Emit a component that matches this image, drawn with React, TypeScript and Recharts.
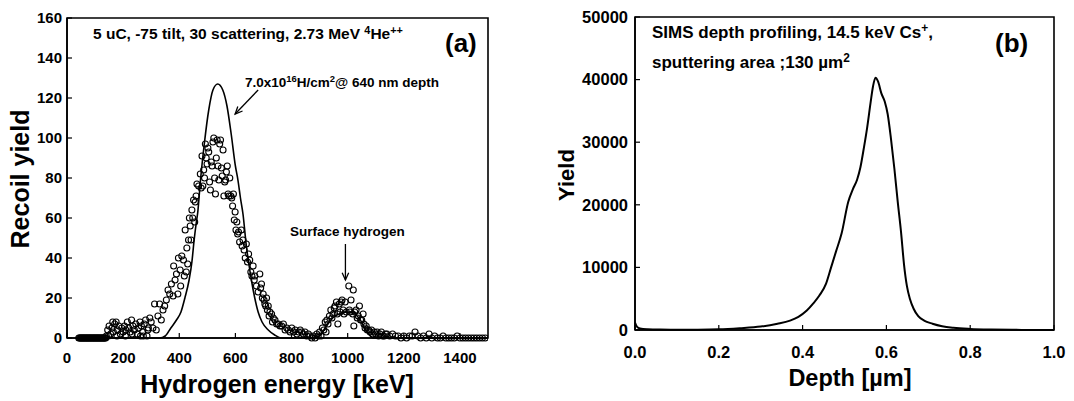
import React from 'react';
import {
  ComposedChart,
  LineChart,
  Line,
  Scatter,
  XAxis,
  YAxis,
  ReferenceArea,
  ReferenceLine
} from 'recharts';

// panel (a): ERD spectrum
const energyTicks = [0, 200, 400, 600, 800, 1000, 1200, 1400];
const recoilTicks = [0, 20, 40, 60, 80, 100, 120, 140, 160];

// measured recoil yield [keV, counts]
const measured: [number, number][] = [
  [42, 0], [45, 0], [48, 0], [50, 0], [53, 0], [55, 0], [58, 0], [60, 0], [63, 0], [65, 0],
  [68, 0], [70, 0], [73, 0], [75, 0], [78, 0], [80, 0], [83, 0], [85, 0], [88, 0], [90, 0],
  [93, 0], [95, 0], [98, 0], [100, 0], [103, 0], [105, 0], [108, 0], [110, 0], [113, 0], [115, 0],
  [118, 0], [120, 0], [123, 0], [125, 0], [128, 0], [130, 0], [133, 0], [135, 0], [138, 0], [140, 1],
  [145, 4], [148, 1], [150, 6], [155, 2], [160, 5], [163, 8], [165, 3], [170, 7], [175, 8], [178, 1],
  [180, 4], [185, 6], [190, 2], [195, 5], [200, 3], [205, 6], [208, 1], [210, 4], [215, 8], [220, 5],
  [225, 3], [230, 9], [232, 2], [235, 6], [240, 4], [245, 7], [250, 2], [255, 5], [260, 8], [262, 1],
  [265, 6], [270, 3], [272, 1], [275, 7], [280, 9], [285, 1], [288, 4], [290, 5], [295, 10], [300, 8],
  [306, 5], [312, 17], [318, 4], [324, 11], [330, 17], [336, 9], [342, 14], [348, 16], [354, 19], [360, 24],
  [366, 22], [372, 27], [378, 21], [380, 36], [385, 29], [390, 32], [395, 22], [397, 40], [403, 34], [405, 26],
  [409, 41], [415, 39], [418, 31], [421, 54], [425, 33], [427, 45], [430, 37], [433, 49], [436, 60], [439, 56],
  [442, 49], [445, 64], [448, 60], [451, 69], [455, 58], [457, 68], [460, 71], [463, 77], [469, 76],
  [475, 82], [478, 75], [481, 91], [484, 76], [487, 84], [490, 80], [493, 97], [496, 90], [499, 87], [502, 95],
  [505, 93], [508, 78], [511, 74], [514, 88], [517, 86], [520, 98], [523, 100], [526, 80], [529, 72], [532, 90],
  [535, 99], [538, 86], [541, 79], [544, 97], [547, 99], [550, 85], [553, 81], [556, 94], [559, 71], [562, 78],
  [565, 79], [568, 83], [571, 86], [574, 72], [577, 71], [580, 80], [584, 71], [587, 70], [590, 66], [593, 72],
  [596, 59], [599, 63], [602, 54], [605, 58], [608, 52], [611, 53], [615, 48], [621, 54], [624, 46], [627, 49],
  [631, 44], [635, 40], [639, 47], [643, 38], [647, 42], [651, 39], [655, 33], [659, 31], [663, 36], [667, 29],
  [669, 31], [675, 26], [681, 23], [687, 32], [690, 25], [693, 27], [696, 20], [699, 22], [702, 19], [705, 17],
  [708, 16], [711, 20], [714, 14], [717, 16], [720, 11], [723, 13], [729, 12], [732, 8], [735, 10], [741, 9],
  [747, 7], [753, 7], [759, 6], [765, 6], [771, 7], [777, 4], [783, 5], [789, 4], [795, 3], [801, 5],
  [807, 3], [813, 4], [819, 2], [825, 3], [831, 4], [836, 3], [842, 2], [848, 3], [854, 1], [860, 2],
  [866, 1], [872, 0], [878, 1], [884, 0], [890, 2], [895, 1],
  [900, 3], [905, 1], [910, 5], [915, 4], [920, 8], [923, 3], [926, 9], [930, 7], [935, 11], [940, 14],
  [944, 10], [948, 12], [952, 15], [955, 16], [960, 18], [963, 12], [965, 7], [970, 17], [973, 13], [977, 18],
  [980, 19], [984, 14], [987, 12], [991, 18], [995, 13], [1004, 26], [1006, 14], [1008, 13], [1012, 19], [1020, 24],
  [1018, 12], [1022, 6], [1025, 13], [1030, 14], [1034, 10], [1038, 11], [1042, 16], [1046, 9], [1050, 9], [1055, 12],
  [1058, 7], [1062, 5], [1066, 6], [1070, 4], [1075, 4], [1080, 3], [1085, 4], [1090, 2], [1095, 3],
  [1100, 2], [1105, 3], [1110, 1], [1115, 2], [1120, 3], [1125, 1], [1130, 1], [1135, 2], [1140, 2], [1150, 1],
  [1160, 2], [1170, 1], [1180, 1], [1190, 0], [1200, 1], [1210, 0], [1220, 1], [1230, 1], [1240, 3], [1250, 1],
  [1260, 0], [1270, 1], [1280, 0], [1290, 2], [1300, 0], [1310, 1], [1320, 0], [1330, 0], [1340, 1], [1350, 0],
  [1360, 0], [1370, 0], [1380, 0], [1390, 1], [1400, 0], [1410, 0], [1420, 0], [1430, 0], [1440, 0], [1450, 0],
  [1460, 0], [1470, 0], [1480, 0], [1490, 0]
];

// simulated spectrum [keV, counts]
const simulated: [number, number][] = [
  [40, 0], [330, 0], [350, 1], [370, 5], [390, 9], [406, 13], [420, 20], [435, 29], [445, 38], [453, 49],
  [460, 57], [466, 63], [475, 78], [490, 98], [505, 114], [520, 124], [537, 127], [555, 124], [570, 116], [585, 102],
  [600, 86], [609, 79], [618, 70], [627, 62], [639, 46], [648, 37], [657, 29], [669, 20], [681, 13], [695, 8],
  [717, 4], [740, 1.5], [765, 0], [890, 0], [905, 2], [920, 5], [935, 8], [950, 10.5], [970, 12], [990, 13],
  [1010, 13], [1030, 11.5], [1045, 9], [1060, 5], [1075, 2], [1090, 0], [1500, 0]
];

// panel (b): SIMS profile
const depthTicks = [0, 0.2, 0.4, 0.6, 0.8, 1.0];
const yieldTicks = [0, 10000, 20000, 30000, 40000, 50000];

const sims: [number, number][] = [
  [0, 1200], [0.005, 500], [0.012, 250], [0.03, 120], [0.06, 60], [0.1, 40], [0.15, 50], [0.2, 100],
  [0.25, 280], [0.3, 550], [0.34, 1000], [0.37, 1500], [0.39, 2100], [0.41, 3100], [0.425, 4200], [0.44, 5500],
  [0.456, 7400], [0.468, 10000], [0.48, 12600], [0.493, 15400], [0.509, 20500], [0.52, 22500], [0.53, 24000],
  [0.538, 26000], [0.546, 29000], [0.554, 32300], [0.562, 36200], [0.568, 38900], [0.574, 40300], [0.58, 39700],
  [0.588, 37800], [0.596, 36500], [0.603, 34500], [0.611, 30500], [0.619, 25800], [0.627, 20500], [0.635, 15600],
  [0.642, 10500], [0.649, 7000], [0.656, 5000], [0.665, 3400], [0.676, 2200], [0.69, 1500], [0.71, 1000],
  [0.733, 600], [0.76, 350], [0.8, 170], [0.85, 70], [0.9, 30], [0.95, 10], [1.0, 0]
];

const FONT = '"Liberation Sans", Arial, Helvetica, sans-serif';

const measuredData = measured.map(([e, y]) => ({ e, y }));
const simulatedData = simulated.map(([e, y]) => ({ e, y }));
const simsData = sims.map(([d, v]) => ({ d, v }));

const Sup = ({ children }: { children: React.ReactNode }) => (
  <span style={{ fontSize: '0.7em', position: 'relative', top: '-0.5em' }}>{children}</span>
);

const Txt = ({ left, top, size, children }: any) => (
  <div
    style={{
      position: 'absolute',
      left,
      top,
      fontSize: size,
      fontWeight: 'bold',
      fontFamily: FONT,
      lineHeight: 1,
      whiteSpace: 'nowrap',
      color: '#000'
    }}
  >
    {children}
  </div>
);

const Title = ({ cx, cy, size, rotate, children }: any) => (
  <div
    style={{
      position: 'absolute',
      left: cx,
      top: cy,
      transform: `translate(-50%, -50%)${rotate ? ' rotate(-90deg)' : ''}`,
      fontSize: size,
      fontWeight: 'bold',
      fontFamily: FONT,
      lineHeight: 1,
      whiteSpace: 'nowrap',
      color: '#000'
    }}
  >
    {children}
  </div>
);

// annotation arrow with open head at the second point
const Arrow = (props: any) => {
  const { x1, y1, x2, y2 } = props;
  const a = Math.atan2(y2 - y1, x2 - x1);
  const len = 8;
  const w = 0.42;
  const h1x = x2 - len * Math.cos(a - w);
  const h1y = y2 - len * Math.sin(a - w);
  const h2x = x2 - len * Math.cos(a + w);
  const h2y = y2 - len * Math.sin(a + w);
  return (
    <g>
      <line x1={x1} y1={y1} x2={x2} y2={y2} stroke="#000" strokeWidth={1.3} />
      <polyline
        points={`${h1x},${h1y} ${x2},${y2} ${h2x},${h2y}`}
        fill="none"
        stroke="#000"
        strokeWidth={1.3}
      />
    </g>
  );
};

const OpenCircle = (p: any) => (
  <circle cx={p.cx} cy={p.cy} r={3} fill="none" stroke="#000" strokeWidth={1.1} />
);

const tickA = { fontFamily: FONT, fontWeight: 'bold', fontSize: 15, fill: '#000' };
const tickB = { fontFamily: FONT, fontWeight: 'bold', fontSize: 16.5, fill: '#000' };
const axisLine = { stroke: '#000', strokeWidth: 1.6 };
const tickLine = { stroke: '#000', strokeWidth: 1.2 };

export default function App() {
  return (
    <div style={{ position: 'absolute', left: 0, top: 0, width: 1074, height: 401, background: '#fff' }}>
      <div style={{ position: 'absolute', left: 0, top: 0 }}>
        <ComposedChart width={540} height={401} margin={{ top: 18, right: 52, bottom: 33, left: 27 }}>
          <XAxis
            dataKey="e"
            type="number"
            domain={[0, 1500]}
            ticks={energyTicks}
            interval={0}
            allowDataOverflow
            height={30}
            tickSize={-5}
            tickMargin={19}
            axisLine={axisLine}
            tickLine={tickLine}
            tick={tickA}
          />
          <YAxis
            type="number"
            domain={[0, 160]}
            ticks={recoilTicks}
            interval={0}
            width={40}
            tickSize={-5}
            tickMargin={10}
            axisLine={axisLine}
            tickLine={tickLine}
            tick={tickA}
          />
          <ReferenceArea x1={0} x2={1500} y1={0} y2={160} fill="none" stroke="#000" strokeWidth={1.6} />
          <Scatter
            data={measuredData}
            dataKey="y"
            shape={OpenCircle}
            isAnimationActive={false}
          />
          <Line
            data={simulatedData}
            dataKey="y"
            type="monotone"
            stroke="#000"
            strokeWidth={1.6}
            dot={false}
            isAnimationActive={false}
          />
          <ReferenceLine segment={[{ x: 681, y: 124 }, { x: 599, y: 112 }]} shape={Arrow} />
          <ReferenceLine segment={[{ x: 992, y: 47 }, { x: 992, y: 29 }]} shape={Arrow} />
        </ComposedChart>
      </div>

      <div style={{ position: 'absolute', left: 540, top: 0 }}>
        <LineChart width={534} height={401} data={simsData} margin={{ top: 17, right: 20, bottom: 41, left: 35 }}>
          <XAxis
            dataKey="d"
            type="number"
            domain={[0, 1]}
            ticks={depthTicks}
            interval={0}
            height={30}
            tickSize={-5}
            tickMargin={21}
            tickFormatter={(v: number) => v.toFixed(1)}
            axisLine={axisLine}
            tickLine={tickLine}
            tick={tickB}
          />
          <YAxis
            type="number"
            domain={[0, 50000]}
            ticks={yieldTicks}
            interval={0}
            width={60}
            tickSize={-5}
            tickMargin={12}
            axisLine={axisLine}
            tickLine={tickLine}
            tick={tickB}
          />
          <ReferenceArea x1={0} x2={1} y1={0} y2={50000} fill="none" stroke="#000" strokeWidth={1.6} />
          <Line
            dataKey="v"
            type="monotone"
            stroke="#000"
            strokeWidth={2}
            dot={false}
            isAnimationActive={false}
          />
        </LineChart>
      </div>

      {/* panel (a) texts */}
      <Txt left={93} top={26} size={15.5}>
        5 uC, -75 tilt, 30 scattering, 2.73 MeV <Sup>4</Sup>He<Sup>++</Sup>
      </Txt>
      <Txt left={445} top={30} size={26}>(a)</Txt>
      <Txt left={245} top={76} size={13.5}>
        7.0x10<Sup>16</Sup>H/cm<Sup>2</Sup>@ 640 nm depth
      </Txt>
      <Txt left={290} top={225} size={13.5}>Surface hydrogen</Txt>
      <Title cx={20} cy={179} size={25} rotate>Recoil yield</Title>
      <Title cx={277} cy={384} size={25}>Hydrogen energy [keV]</Title>

      {/* panel (b) texts */}
      <Txt left={652} top={24} size={17}>
        SIMS depth profiling, 14.5 keV Cs<Sup>+</Sup>,
      </Txt>
      <Txt left={652} top={54} size={17}>
        sputtering area ;130 µm<Sup>2</Sup>
      </Txt>
      <Txt left={995} top={30} size={26}>(b)</Txt>
      <Title cx={567} cy={175} size={22} rotate>Yield</Title>
      <Title cx={850} cy={379} size={23.5}>Depth [µm]</Title>
    </div>
  );
}
